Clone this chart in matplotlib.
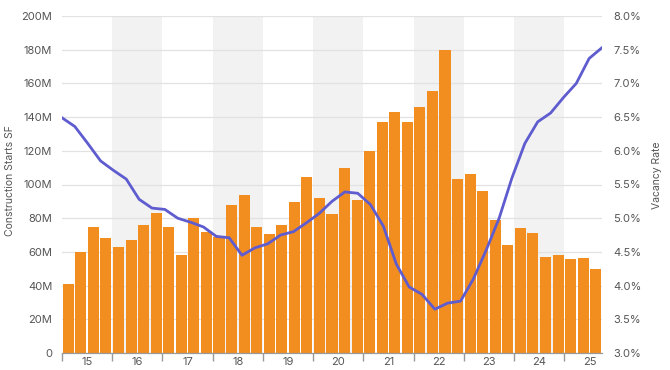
import numpy as np
import matplotlib
matplotlib.use("Agg")
import matplotlib.pyplot as plt
from matplotlib.ticker import FuncFormatter, FixedLocator

plt.rcParams['font.family'] = ['Inter', 'DejaVu Sans']

# quarterly data, 2015 Q1 .. 2025 Q3
years = ["15", "16", "17", "18", "19", "20", "21", "22", "23", "24", "25"]
starts_m = [41, 60, 75, 68,
            63, 67, 76, 83,
            75, 58, 80, 72,
            69, 88, 93.5, 75,
            70.5, 76, 89.5, 104.5,
            92, 82.5, 110, 91,
            120, 137, 143, 137,
            146, 155.5, 180, 103,
            106, 96, 79, 64,
            74, 71.5, 57, 58,
            55.5, 56.5, 50]
vacancy = [6.49, 6.36, 6.11, 5.85, 5.71, 5.58, 5.28, 5.15,
           5.13, 5.00, 4.94, 4.87, 4.73, 4.71, 4.45, 4.56,
           4.62, 4.75, 4.80, 4.93, 5.07, 5.25, 5.39, 5.37,
           5.20, 4.88, 4.32, 3.98, 3.87, 3.65, 3.74, 3.77,
           4.10, 4.53, 5.00, 5.60, 6.11, 6.43, 6.56, 6.79,
           7.00, 7.37, 7.53]

BAR = '#f28e20'
LINE = '#5e5ccf'
TXT = '#555555'

n = len(starts_m)
x = np.arange(n)

fig = plt.figure(figsize=(6.7, 3.7), dpi=100)
ax = fig.add_axes([62 / 670, 17 / 370, 540 / 670, 337 / 370])
ax2 = ax.twinx()

# alternate year shading
for j in range(len(years)):
    if j % 2 == 1:
        ax.axvspan(-0.5 + 4 * j, -0.5 + 4 * (j + 1), color='#f2f2f2', zorder=0, lw=0)

ax.bar(x, starts_m, width=0.88, color=BAR, zorder=2)
ax.set_xlim(-0.5, n - 0.5)
ax.set_ylim(0, 200)
ax.yaxis.set_major_locator(FixedLocator(np.arange(0, 201, 20)))
ax.yaxis.set_major_formatter(FuncFormatter(lambda v, p: "0" if v == 0 else f"{v:.0f}M"))
ax.grid(axis='y', color='#e2e2e2', lw=0.9, zorder=1)
ax.set_axisbelow(True)

# year boundaries as ticks, labels at year centres
bounds = [-0.5 + 4 * j for j in range(len(years))]
ax.set_xticks(bounds)
ax.set_xticklabels([])
ax.set_xticks([1.5 + 4 * j for j in range(len(years))], minor=True)
ax.set_xticklabels(years, minor=True)
ax.tick_params(axis='x', which='major', length=6, width=1, color='#999999')
ax.tick_params(axis='x', which='minor', length=0, pad=3, labelsize=8, labelcolor=TXT)
ax.tick_params(axis='y', length=0, pad=7, labelsize=8, labelcolor=TXT)

ax2.plot(np.linspace(-0.5, n - 0.5, n), vacancy, color=LINE, lw=2.0, zorder=3,
         solid_joinstyle='round')
ax2.set_ylim(3.0, 8.0)
ax2.set_yticks(np.arange(3.0, 8.01, 0.5))
ax2.yaxis.set_major_formatter(FuncFormatter(lambda v, p: f"{v:.1f}%"))
ax2.tick_params(axis='y', length=0, pad=8, labelsize=8, labelcolor=TXT)

for a in (ax, ax2):
    for s in ('top', 'left', 'right'):
        a.spines[s].set_visible(False)
    a.spines['bottom'].set_color('#999999')

ax.set_ylabel("Construction Starts SF", fontsize=7.5, color=TXT)
ax.yaxis.set_label_coords(-0.087, 0.513)
ax2.set_ylabel("Vacancy Rate", fontsize=7.5, color=TXT)
ax2.yaxis.set_label_coords(1.093, 0.528)

fig.savefig("out.png", dpi=100)
